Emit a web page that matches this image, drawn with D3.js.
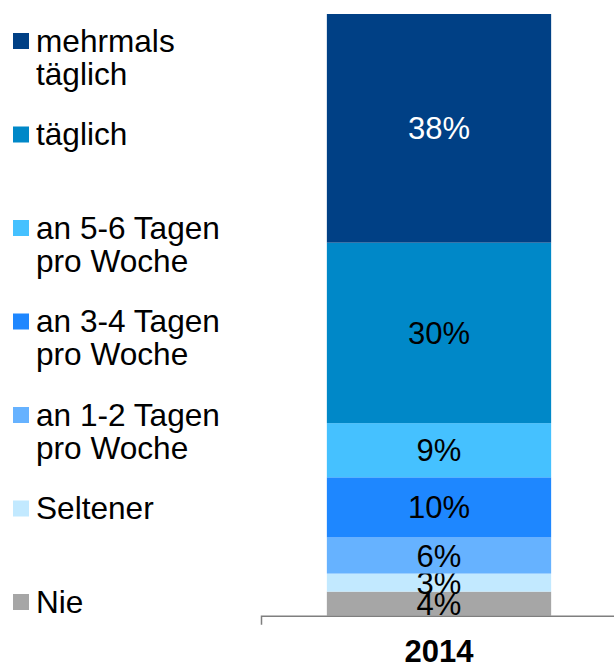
<!DOCTYPE html>
<html>
<head>
<meta charset="utf-8">
<script src="https://cdn.jsdelivr.net/npm/d3@7/dist/d3.min.js"></script>
<style>
  body { margin: 0; background: #fff; }
  svg { display: block; font-family: "Liberation Sans", Arial, sans-serif; }
</style>
</head>
<body>
<div id="chart"></div>
<script>
// categories, top of the stack first (same order as the legend)
var categories = ["mehrmals täglich", "täglich", "an 5-6 Tagen pro Woche",
  "an 3-4 Tagen pro Woche", "an 1-2 Tagen pro Woche", "Seltener", "Nie"];
var legendLines = [["mehrmals", "täglich"], ["täglich"], ["an 5-6 Tagen", "pro Woche"],
  ["an 3-4 Tagen", "pro Woche"], ["an 1-2 Tagen", "pro Woche"], ["Seltener"], ["Nie"]];
var colors = ["#004085", "#0088c8", "#45c1ff", "#1e87ff", "#66b2ff", "#c2e9ff", "#a6a6a6"];
var years = ["2014"];
var values2014 = [38, 30, 9, 10, 6, 3, 4];

var width = 614, height = 668;

var svg = d3.select("#chart").append("svg")
  .attr("width", width)
  .attr("height", height);

// build a row for d3.stack, stacking from "Nie" upwards
var row = { year: "2014" };
categories.forEach(function (c, i) { row[c] = values2014[i]; });
var stackKeys = categories.slice().reverse();
var series = d3.stack().keys(stackKeys)([row]);

var x = d3.scaleBand()
  .domain(years)
  .range([261, 617])
  .paddingInner(0.37)
  .paddingOuter(0.185);

var y = d3.scaleLinear()
  .domain([0, 100])
  .range([615.7, 14]);

var colorOf = d3.scaleOrdinal().domain(categories).range(colors);

// bar segments
var seg = svg.append("g").selectAll("g")
  .data(series)
  .join("g");

seg.append("rect")
  .attr("x", x("2014"))
  .attr("width", x.bandwidth())
  .attr("y", function (d) { return y(d[0][1]); })
  .attr("height", function (d) { return y(d[0][0]) - y(d[0][1]); })
  .attr("fill", function (d) { return colorOf(d.key); });

// value labels (3% and 4% overlap in the original too)
seg.append("text")
  .attr("x", x("2014") + x.bandwidth() / 2)
  .attr("y", function (d) { return (y(d[0][0]) + y(d[0][1])) / 2 + 11; })
  .attr("text-anchor", "middle")
  .attr("font-size", 31)
  .attr("fill", function (d) { return d.key === "mehrmals täglich" ? "#fff" : "#000"; })
  .text(function (d) { return (d[0][1] - d[0][0]) + "%"; });

// x axis
var axis = svg.append("g")
  .attr("transform", "translate(0," + y(0) + ")")
  .call(d3.axisBottom(x).tickSizeInner(0).tickSizeOuter(9).tickPadding(0));

axis.select(".domain").attr("stroke", "#7f7f7f").attr("stroke-width", 1.5);
axis.selectAll(".tick text")
  .attr("y", 46)
  .attr("dy", 0)
  .attr("fill", "#000")
  .attr("font-size", 31)
  .attr("font-weight", "bold")
  .attr("font-family", "'Liberation Sans', Arial, sans-serif");

// legend
var legend = svg.append("g").selectAll("g")
  .data(categories)
  .join("g")
  .attr("transform", function (d, i) { return "translate(13," + (33 + i * 93.5) + ")"; });

legend.append("rect")
  .attr("width", 16)
  .attr("height", 16)
  .attr("fill", function (d) { return colorOf(d); });

legend.append("text")
  .attr("x", 23)
  .attr("y", 18.5)
  .attr("font-size", 31.6)
  .attr("fill", "#000")
  .selectAll("tspan")
  .data(function (d, i) { return legendLines[i]; })
  .join("tspan")
  .attr("x", 23)
  .attr("dy", function (d, j) { return j === 0 ? 0 : 33; })
  .text(function (d) { return d; });
</script>
</body>
</html>
